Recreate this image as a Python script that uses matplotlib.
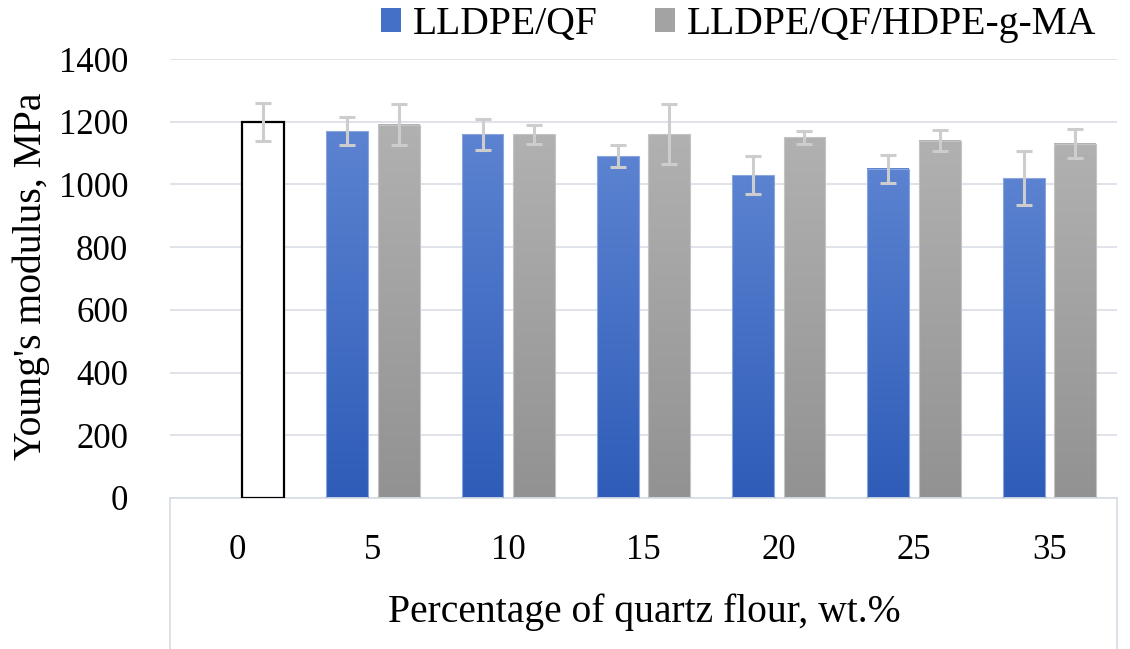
import numpy as np
import matplotlib
matplotlib.use('Agg')
import matplotlib.pyplot as plt
from matplotlib.colors import LinearSegmentedColormap
from matplotlib.patches import Patch
from matplotlib.lines import Line2D

plt.rcParams['font.family'] = ['Liberation Serif', 'DejaVu Serif']

# 数据
categories = ['0', '5', '10', '15', '20', '25', '35']
pure_value = 1200
pure_err = 60
qf_values = [1170, 1160, 1090, 1030, 1050, 1020]
qf_err = [45, 50, 35, 62, 44, 86]
ma_values = [1190, 1160, 1160, 1150, 1140, 1130]
ma_err = [65, 30, 95, 21, 34, 47]
series_names = ['LLDPE/QF', 'LLDPE/QF/HDPE-g-MA']

blue_cmap = LinearSegmentedColormap.from_list('blue', ['#2e5cb8', '#5c83d1'])
gray_cmap = LinearSegmentedColormap.from_list('gray', ['#929292', '#b1b1b1'])

W, H = 1130, 649
fig = plt.figure(figsize=(W / 100, H / 100), dpi=100)
ax = fig.add_axes([170 / W, (H - 498) / H, 947 / W, 439 / H])

width = 0.31
off = 0.19
grad = np.linspace(0, 1, 256).reshape(-1, 1)


def gradient_bar(x, h, cmap, edge):
    ax.imshow(grad, extent=[x - width / 2, x + width / 2, 0, h], origin='lower',
              aspect='auto', cmap=cmap, zorder=2)
    ax.bar(x, h, width, facecolor='none', edgecolor=edge, linewidth=0.8, zorder=3)


x_rest = np.arange(1, len(categories))
for i, x in enumerate(x_rest):
    gradient_bar(x - off, qf_values[i], blue_cmap, '#8aa6dc')
    gradient_bar(x + off, ma_values[i], gray_cmap, '#c4c4c4')

# 纯 LLDPE
ax.bar(0 + off, pure_value, width, facecolor='white', edgecolor='black',
       linewidth=1.6, zorder=3)

err_kw = dict(fmt='none', ecolor='#cdcdcd', elinewidth=2.2, capsize=5.5,
              capthick=2.2, zorder=4)
ax.errorbar([0 + off], [pure_value], yerr=[pure_err], **err_kw)
ax.errorbar(x_rest - off, qf_values, yerr=qf_err, **err_kw)
ax.errorbar(x_rest + off, ma_values, yerr=ma_err, **err_kw)

ax.set_xlim(-0.5, len(categories) - 0.5)
ax.set_ylim(0, 1400)
ax.set_yticks(np.arange(0, 1401, 200))
ax.set_xticks(np.arange(len(categories)))
ax.set_xticklabels(categories)
ax.tick_params(axis='both', length=0, labelsize=25)
ax.tick_params(axis='y', pad=30)
ax.tick_params(axis='x', pad=26)
ax.yaxis.grid(True, color='#dde1e8', linewidth=1.3, zorder=0)
ax.set_axisbelow(True)
for s in ['top', 'right', 'left']:
    ax.spines[s].set_visible(False)
ax.spines['bottom'].set_color('#d9dde5')
ax.spines['bottom'].set_linewidth(1.3)

# 类别轴框线
for xa in [0, 1]:
    ax.add_line(Line2D([xa, xa], [0, -0.36], transform=ax.transAxes,
                       color='#d9dde5', linewidth=1.3, clip_on=False))

ax.set_ylabel("Young's modulus, MPa", fontsize=28.5, va='center')
ax.yaxis.set_label_coords(-0.147, 0.505)
ax.set_xlabel('Percentage of quartz flour, wt.%', fontsize=28.5)
ax.xaxis.set_label_coords(0.501, -0.26)
ax.xaxis.label.set_va('center')

handles = [Patch(facecolor='#4570c8', edgecolor='none'),
           Patch(facecolor='#a3a3a3', edgecolor='none')]
fig.legend(handles, series_names, loc='upper right', bbox_to_anchor=(1132 / W, 1.045),
           ncol=2, frameon=False, fontsize=28.5, handlelength=0.5, handleheight=0.55,
           handletextpad=0.3, columnspacing=1.45)

fig.savefig('out.png', dpi=100)
